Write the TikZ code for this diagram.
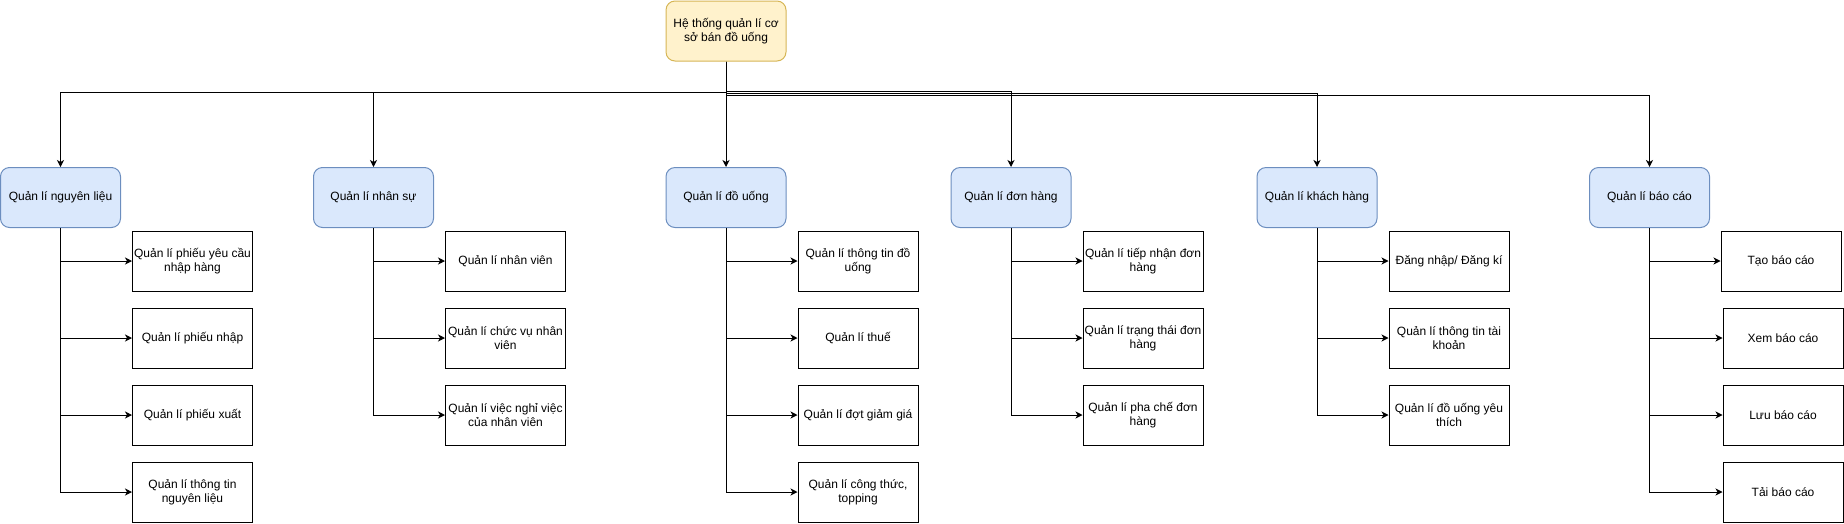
\documentclass[tikz,border=0pt]{standalone}
\usepackage{xcolor}
\usepackage{fontspec}
\setmainfont{Liberation Sans}
\usepackage{tikz}
\usetikzlibrary{arrows.meta}

\definecolor{rootfill}{HTML}{FFF2CC}
\definecolor{rootline}{HTML}{D6B656}
\definecolor{modfill}{HTML}{DAE8FC}
\definecolor{modline}{HTML}{6C8EBF}

\begin{document}
\begin{tikzpicture}[x=1pt, y=-1pt, line width=1pt,
    >={Stealth[length=7pt,width=7pt,inset=2pt]},
    every node/.style={font=\fontsize{12}{14}\selectfont, align=center, inner sep=0pt},
    rootbox/.style={draw=rootline, fill=rootfill, rounded corners=9pt, minimum width=120pt, minimum height=60pt},
    modbox/.style={draw=modline, fill=modfill, rounded corners=9pt, minimum width=120pt, minimum height=60pt},
    taskbox/.style={draw=black, fill=white, minimum width=120pt, minimum height=60pt}]

    \useasboundingbox (0,0) rectangle (1844,523);

    % Root
    \node[rootbox] (root) at (726,31) {Hệ thống quản lí cơ\\sở bán đồ uống};

    % Modules
    \node[modbox] (ingr) at (60.5,197.5) {Quản lí nguyên liệu};
    \node[modbox] (staff) at (373.5,197.5) {Quản lí nhân sự};
    \node[modbox] (drink) at (726,197.5) {Quản lí đồ uống};
    \node[modbox] (order) at (1011,197.5) {Quản lí đơn hàng};
    \node[modbox] (cust) at (1317,197.5) {Quản lí khách hàng};
    \node[modbox] (report) at (1649.5,197.5) {Quản lí báo cáo};

    % Root -> modules
    \draw[->] (root.south) -- ++(0,31) -| (ingr.north);
    \draw[->] (root.south) -- ++(0,31) -| (staff.north);
    \draw[->] (root.south) -- (drink.north);
    \draw[->] (root.south) -- ++(0,30) -| (order.north);
    \draw[->] (root.south) -- ++(0,31.5) -| (cust.north);
    \draw[->] (root.south) -- ++(0,33.5) -| (report.north);

    % Nguyen lieu
    \node[taskbox] (ingr1) at (192.5,261) {Quản lí phiếu yêu cầu\\nhập hàng};
    \node[taskbox] (ingr2) at (192.5,338) {Quản lí phiếu nhập};
    \node[taskbox] (ingr3) at (192.5,415) {Quản lí phiếu xuất};
    \node[taskbox] (ingr4) at (192.5,492) {Quản lí thông tin\\nguyên liệu};
    \draw[->] (ingr.south) |- (ingr1.west);
    \draw[->] (ingr.south) |- (ingr2.west);
    \draw[->] (ingr.south) |- (ingr3.west);
    \draw[->] (ingr.south) |- (ingr4.west);

    % Nhan su
    \node[taskbox] (staff1) at (505.5,261) {Quản lí nhân viên};
    \node[taskbox] (staff2) at (505.5,338) {Quản lí chức vụ nhân\\viên};
    \node[taskbox] (staff3) at (505.5,415) {Quản lí việc nghỉ việc\\của nhân viên};
    \draw[->] (staff.south) |- (staff1.west);
    \draw[->] (staff.south) |- (staff2.west);
    \draw[->] (staff.south) |- (staff3.west);

    % Do uong
    \node[taskbox] (drink1) at (858,261) {Quản lí thông tin đồ\\uống};
    \node[taskbox] (drink2) at (858,338) {Quản lí thuế};
    \node[taskbox] (drink3) at (858,415) {Quản lí đợt giảm giá};
    \node[taskbox] (drink4) at (858,492) {Quản lí công thức,\\topping};
    \draw[->] (drink.south) |- (drink1.west);
    \draw[->] (drink.south) |- (drink2.west);
    \draw[->] (drink.south) |- (drink3.west);
    \draw[->] (drink.south) |- (drink4.west);

    % Don hang
    \node[taskbox] (order1) at (1143,261) {Quản lí tiếp nhận đơn\\hàng};
    \node[taskbox] (order2) at (1143,338) {Quản lí trạng thái đơn\\hàng};
    \node[taskbox] (order3) at (1143,415) {Quản lí pha chế đơn\\hàng};
    \draw[->] (order.south) |- (order1.west);
    \draw[->] (order.south) |- (order2.west);
    \draw[->] (order.south) |- (order3.west);

    % Khach hang
    \node[taskbox] (cust1) at (1449,261) {Đăng nhập/ Đăng kí};
    \node[taskbox] (cust2) at (1449,338) {Quản lí thông tin tài\\khoản};
    \node[taskbox] (cust3) at (1449,415) {Quản lí đồ uống yêu\\thích};
    \draw[->] (cust.south) |- (cust1.west);
    \draw[->] (cust.south) |- (cust2.west);
    \draw[->] (cust.south) |- (cust3.west);

    % Bao cao
    \node[taskbox] (report1) at (1781,261) {Tạo báo cáo};
    \node[taskbox] (report2) at (1783,338) {Xem báo cáo};
    \node[taskbox] (report3) at (1783,415) {Lưu báo cáo};
    \node[taskbox] (report4) at (1783,492) {Tải báo cáo};
    \draw[->] (report.south) |- (report1.west);
    \draw[->] (report.south) |- (report2.west);
    \draw[->] (report.south) |- (report3.west);
    \draw[->] (report.south) |- (report4.west);
\end{tikzpicture}
\end{document}
